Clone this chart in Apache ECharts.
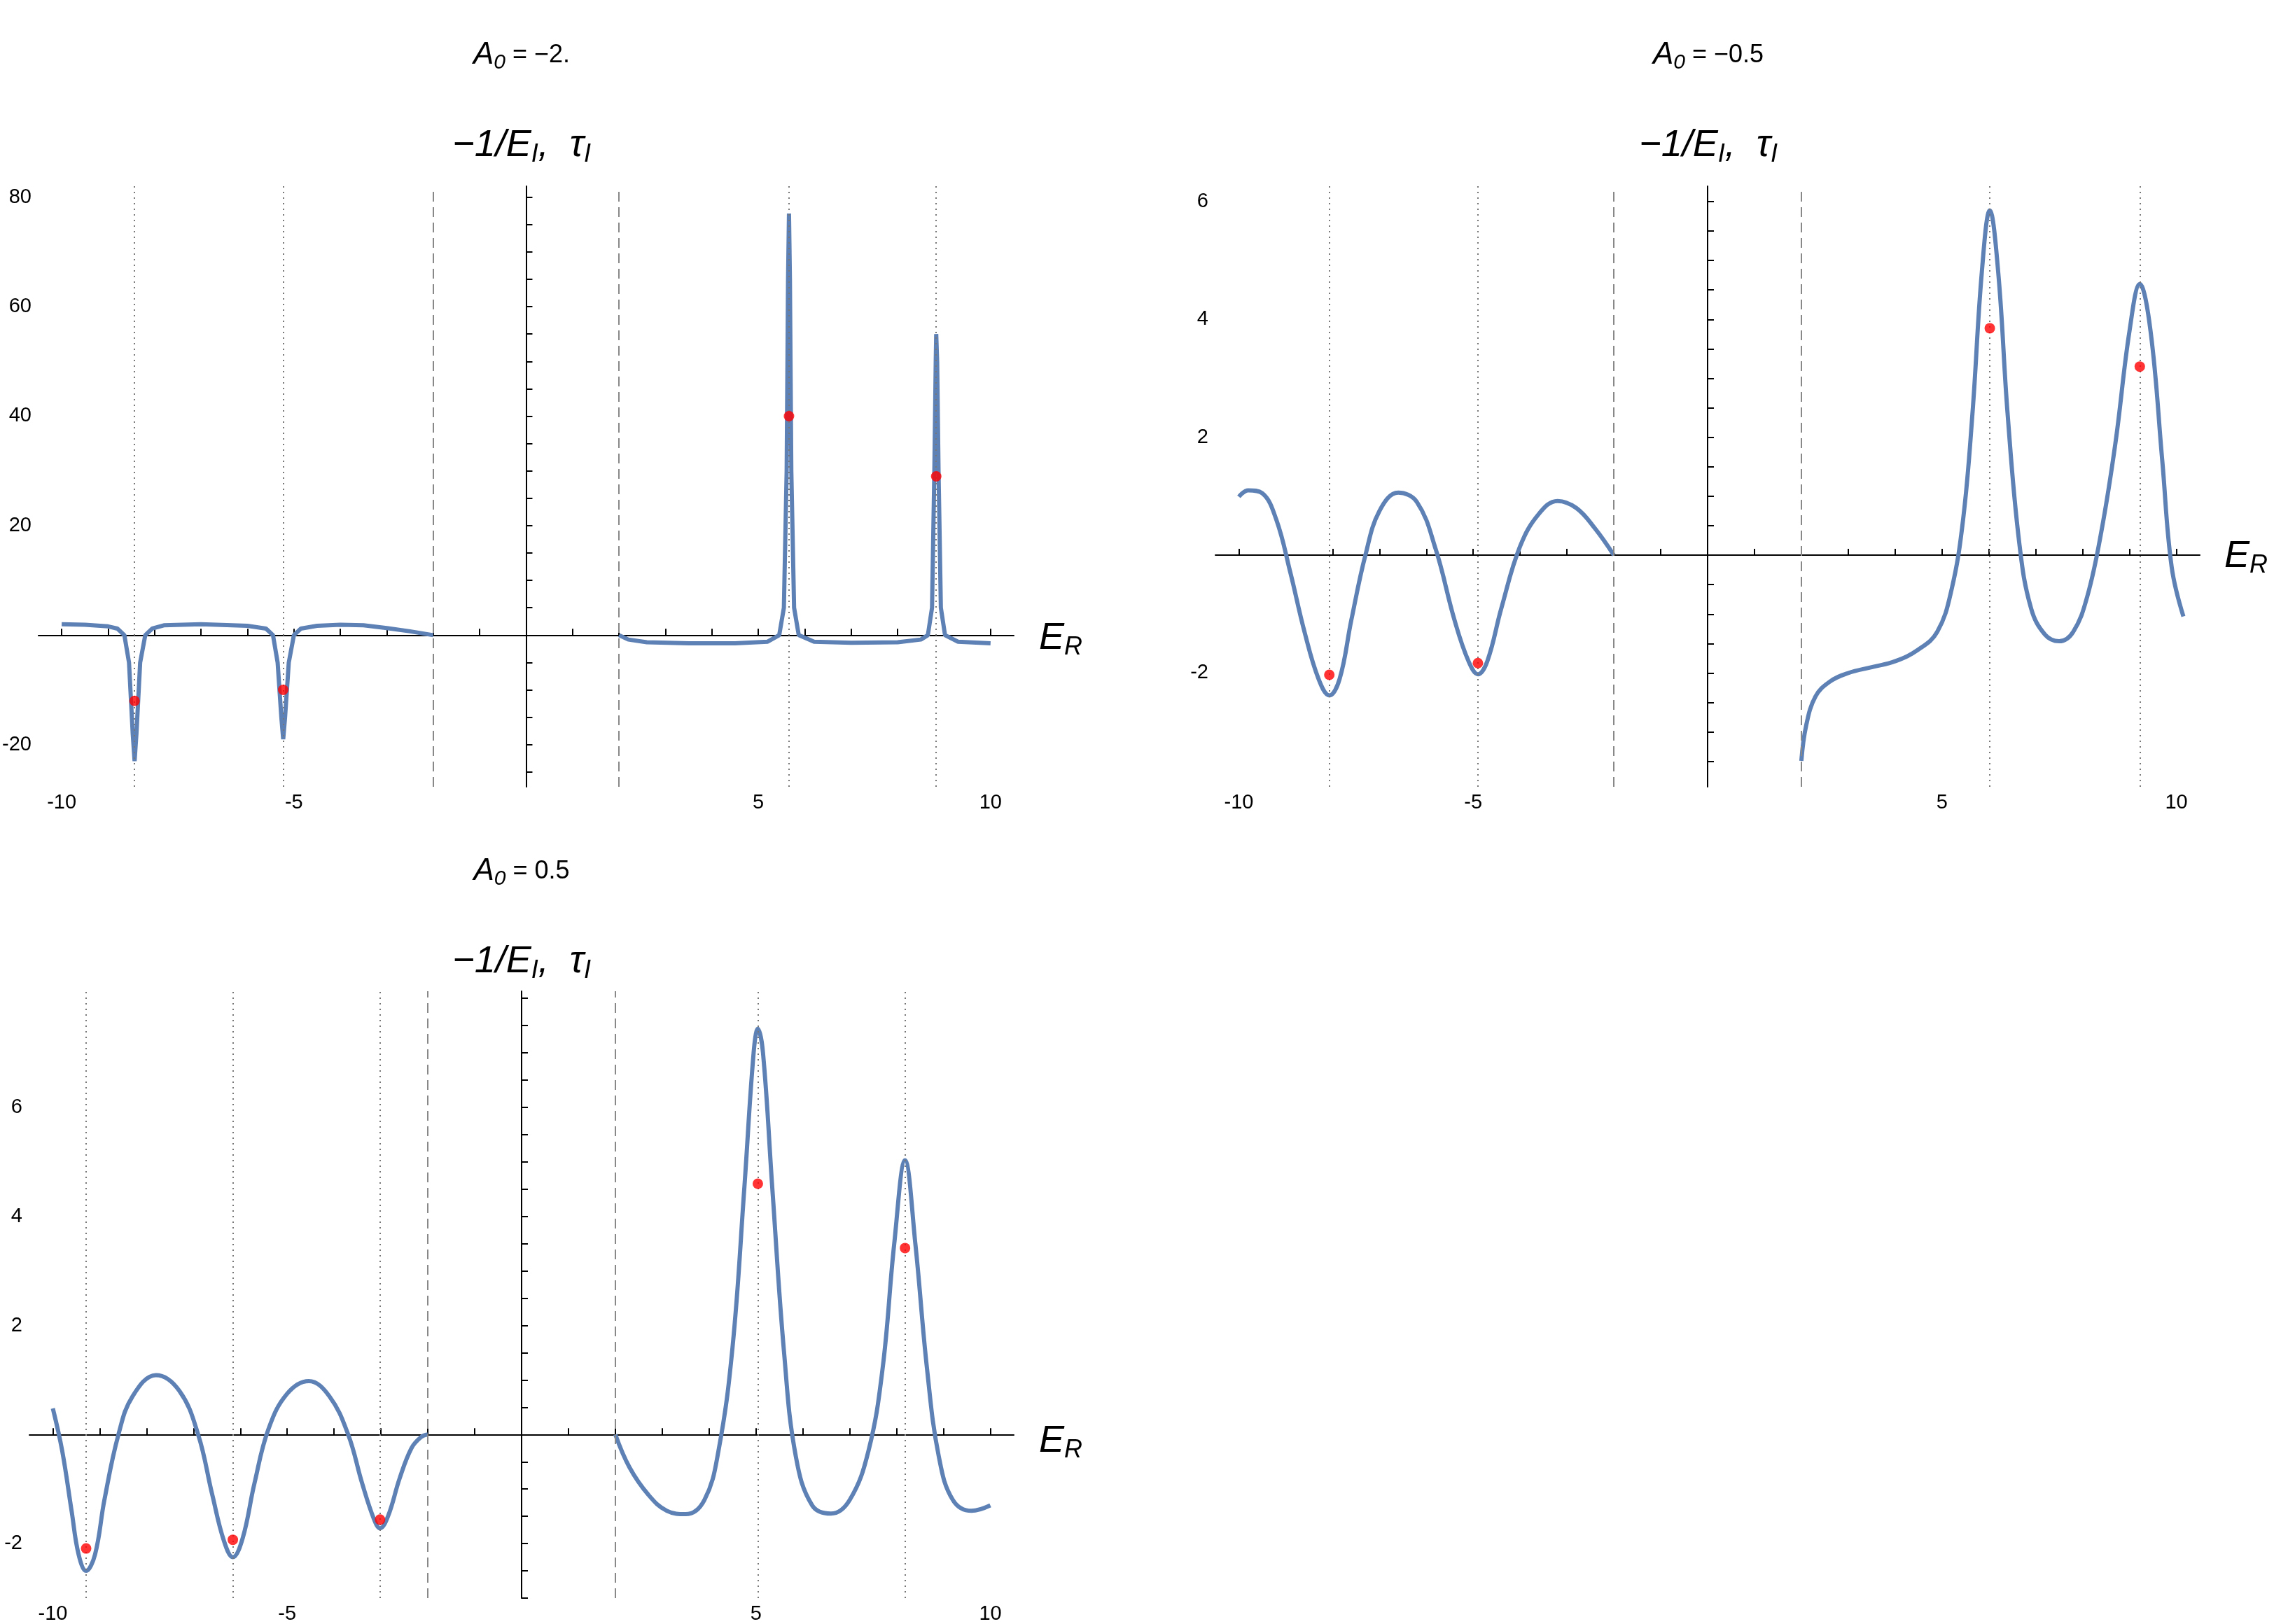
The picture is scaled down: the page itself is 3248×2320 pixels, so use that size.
<!DOCTYPE html>
<html>
<head>
<meta charset="utf-8">
<script src="https://cdn.jsdelivr.net/npm/echarts@6/dist/echarts.min.js"></script>
<style>html,body{margin:0;padding:0;background:#fff}#chartmain{width:3248px;height:2320px}</style>
</head>
<body>
<div id="chartmain"></div>
<script>
// panel A0 = -2.
var p1Left = [[-10,2],[-9.5,1.9],[-9,1.6],[-8.8,1.2],[-8.65,0],[-8.55,-5],[-8.47,-18],[-8.43,-23],[-8.39,-18],[-8.31,-5],[-8.2,0],[-8.05,1.2],[-7.8,1.8],[-7,2],[-6,1.7],[-5.6,1.2],[-5.45,0],[-5.35,-5],[-5.27,-15],[-5.23,-19],[-5.19,-15],[-5.11,-5],[-5.0,0],[-4.85,1.2],[-4.5,1.7],[-4,1.9],[-3.5,1.8],[-3,1.3],[-2.5,0.7],[-2,0]];
var p1Right = [[2,0],[2.2,-0.8],[2.6,-1.3],[3.5,-1.5],[4.5,-1.5],[5.2,-1.2],[5.45,0],[5.55,5],[5.61,30],[5.64,65],[5.66,77],[5.68,65],[5.71,30],[5.77,5],[5.87,0],[6.2,-1.2],[7,-1.4],[8,-1.3],[8.5,-0.8],[8.65,0],[8.74,5],[8.79,30],[8.82,50],[8.83,55],[8.85,50],[8.88,30],[8.93,5],[9.02,0],[9.3,-1.2],[10,-1.5]];
var p1Dots = [[-8.43,-12],[-5.23,-10],[5.66,40],[8.83,29]];
var p1Res = [-8.43,-5.23,5.66,8.83];

// panel A0 = -0.5
var p2Left = [[-10,0.99],[-9.8,1.1],[-9.5,1.05],[-9.2,0.6],[-8.9,-0.3],[-8.6,-1.3],[-8.3,-2.1],[-8.07,-2.38],[-7.85,-2.1],[-7.6,-1.1],[-7.3,0],[-7,0.75],[-6.6,1.06],[-6.2,0.9],[-5.8,0.1],[-5.4,-1.1],[-5.1,-1.8],[-4.9,-2.02],[-4.7,-1.8],[-4.4,-0.9],[-4.0,0.15],[-3.6,0.7],[-3.2,0.92],[-2.8,0.8],[-2.4,0.45],[-2.0,0]];
var p2Right = [[2,-3.49],[2.1,-2.9],[2.3,-2.4],[2.6,-2.15],[3,-2.0],[3.5,-1.9],[4,-1.8],[4.5,-1.6],[4.9,-1.3],[5.2,-0.6],[5.45,0.6],[5.65,2.4],[5.85,4.8],[6.02,5.85],[6.2,4.8],[6.4,2.4],[6.65,0.2],[6.9,-0.9],[7.2,-1.35],[7.5,-1.46],[7.8,-1.3],[8.1,-0.7],[8.4,0.4],[8.7,1.9],[9,3.8],[9.22,4.6],[9.45,3.8],[9.7,1.6],[9.9,-0.2],[10.15,-1.04]];
var p2Dots = [[-8.07,-2.03],[-4.9,-1.83],[6.02,3.85],[9.22,3.2]];
var p2Res = [-8.07,-4.9,6.02,9.22];

// panel A0 = 0.5
var p3Left = [[-10,0.48],[-9.8,-0.3],[-9.6,-1.4],[-9.45,-2.2],[-9.29,-2.5],[-9.1,-2.2],[-8.9,-1.2],[-8.6,0],[-8.3,0.7],[-7.8,1.09],[-7.3,0.8],[-6.9,0.0],[-6.6,-1.1],[-6.35,-1.95],[-6.16,-2.25],[-5.95,-1.9],[-5.7,-0.9],[-5.4,0.1],[-5.0,0.75],[-4.54,0.98],[-4.1,0.7],[-3.7,0],[-3.4,-0.9],[-3.15,-1.55],[-3.02,-1.72],[-2.85,-1.5],[-2.6,-0.8],[-2.35,-0.25],[-2.15,-0.05],[-2,0]];
var p3Right = [[2,0],[2.3,-0.6],[2.7,-1.1],[3.1,-1.4],[3.5,-1.46],[3.9,-1.2],[4.2,-0.3],[4.5,1.6],[4.75,4.5],[4.95,7.0],[5.04,7.44],[5.15,7.0],[5.35,4.5],[5.6,1.5],[5.85,-0.4],[6.2,-1.3],[6.6,-1.45],[7.0,-1.2],[7.4,-0.3],[7.7,1.2],[7.95,3.5],[8.18,5.03],[8.4,3.5],[8.65,1.2],[8.9,-0.4],[9.2,-1.2],[9.6,-1.4],[10,-1.3]];
var p3Dots = [[-9.29,-2.09],[-6.16,-1.93],[-3.02,-1.56],[5.04,4.6],[8.18,3.42]];
var p3Res = [-9.29,-6.16,-3.02,5.04,8.18];

var xLabels = [-10,-5,5,10];
var xTicks = [-10,-9,-8,-7,-6,-5,-4,-3,-2,-1,1,2,3,4,5,6,7,8,9,10];
var y1Labels = [-20,20,40,60,80];
var y1Ticks = [-25,-20,-15,-10,-5,5,10,15,20,25,30,35,40,45,50,55,60,65,70,75,80];
var y2Labels = [-2,2,4,6];
var y2Ticks = [-3.5,-3,-2.5,-2,-1.5,-1,-0.5,0.5,1,1.5,2,2.5,3,3.5,4,4.5,5,5.5,6];
var y3Labels = [-2,2,4,6];
var y3Ticks = [-3,-2.5,-2,-1.5,-1,-0.5,0.5,1,1.5,2,2.5,3,3.5,4,4.5,5,5.5,6,6.5,7,7.5,8];

var panels = [
    {left: 42, top: 266, height: 858, ymin: -27.7, ymax: 82, yl: y1Labels, yt: y1Ticks, curves: [p1Left, p1Right], dots: p1Dots, res: p1Res, smooth: false},
    {left: 1736, top: 266, height: 858, ymin: -3.93, ymax: 6.26, yl: y2Labels, yt: y2Ticks, curves: [p2Left, p2Right], dots: p2Dots, res: p2Res, smooth: 0.4},
    {left: 42, top: 1416, height: 874, ymin: -3.0, ymax: 8.13, yl: y3Labels, yt: y3Ticks, curves: [p3Left, p3Right], dots: p3Dots, res: p3Res, smooth: 0.4}
];

var grids = [], xAxes = [], yAxes = [], series = [];
var axisText = {fontFamily: 'Arial, Liberation Sans', fontSize: 29, color: '#000'};
panels.forEach(function (p, i) {
    grids.push({left: p.left, top: p.top, width: 1406, height: p.height});
    xAxes.push({
        type: 'value', gridIndex: i, min: -10.5, max: 10.5,
        axisLine: {onZero: true, lineStyle: {color: '#000', width: 2}},
        axisTick: {customValues: xTicks, length: 9, inside: true, lineStyle: {color: '#000', width: 2}},
        axisLabel: Object.assign({customValues: xLabels, margin: 8}, axisText),
        splitLine: {show: false}
    });
    yAxes.push({
        type: 'value', gridIndex: i, min: p.ymin, max: p.ymax,
        axisLine: {onZero: true, lineStyle: {color: '#000', width: 2}},
        axisTick: {customValues: p.yt, length: 9, inside: true, lineStyle: {color: '#000', width: 2}},
        axisLabel: Object.assign({customValues: p.yl, margin: 10}, axisText),
        splitLine: {show: false}
    });
    var marks = [];
    p.res.forEach(function (v) {
        marks.push({xAxis: v, lineStyle: {type: [2, 6], color: '#777', width: 2}});
    });
    marks.push({xAxis: -2, lineStyle: {type: [14, 8], color: '#888', width: 2}});
    marks.push({xAxis: 2, lineStyle: {type: [14, 8], color: '#888', width: 2}});
    p.curves.forEach(function (c, k) {
        var s = {
            type: 'line', xAxisIndex: i, yAxisIndex: i, data: c, showSymbol: false,
            smooth: p.smooth, lineStyle: {color: '#5E81B5', width: 6}, z: 3
        };
        if (k === 0) {
            s.markLine = {silent: true, symbol: ['none', 'none'], label: {show: false}, data: marks};
        }
        series.push(s);
    });
    series.push({
        type: 'scatter', xAxisIndex: i, yAxisIndex: i, data: p.dots,
        symbolSize: 15, itemStyle: {color: '#FF0000'}, z: 5
    });
});

function txt(x, y, text, rich) {
    return {type: 'text', x: x, y: y, style: {text: text, rich: rich, textAlign: 'center', textVerticalAlign: 'middle'}};
}
var titleRich = {
    a: {fontFamily: 'Liberation Sans', fontStyle: 'italic', fontSize: 44, color: '#000'},
    s: {fontFamily: 'Liberation Sans', fontStyle: 'italic', fontSize: 30, color: '#000', padding: [22, 0, 0, 0]},
    n: {fontFamily: 'Liberation Sans', fontSize: 36, color: '#000'}
};
var nameRich = {
    a: {fontFamily: 'Liberation Sans', fontStyle: 'italic', fontSize: 54, color: '#000'},
    s: {fontFamily: 'Liberation Sans', fontStyle: 'italic', fontSize: 36, color: '#000', padding: [26, 0, 0, 0]}
};
var yName = '{a|−1/E}{s|I}{a|,  τ}{s|I}';
var xName = '{a|E}{s|R}';
var graphics = [
    txt(745, 79, '{a|A}{s|0}{n| = −2.}', titleRich),
    txt(745, 208, yName, nameRich),
    txt(2440, 79, '{a|A}{s|0}{n| = −0.5}', titleRich),
    txt(2440, 208, yName, nameRich),
    txt(745, 1245, '{a|A}{s|0}{n| = 0.5}', titleRich),
    txt(745, 1374, yName, nameRich),
    txt(1515, 912, xName, nameRich),
    txt(3208, 795, xName, nameRich),
    txt(1515, 2059, xName, nameRich)
];

var option = {
    backgroundColor: '#fff',
    animation: false,
    grid: grids,
    xAxis: xAxes,
    yAxis: yAxes,
    series: series,
    graphic: graphics
};
var myChart = echarts.init(document.getElementById('chartmain'));
myChart.setOption(option);
</script>
</body>
</html>
